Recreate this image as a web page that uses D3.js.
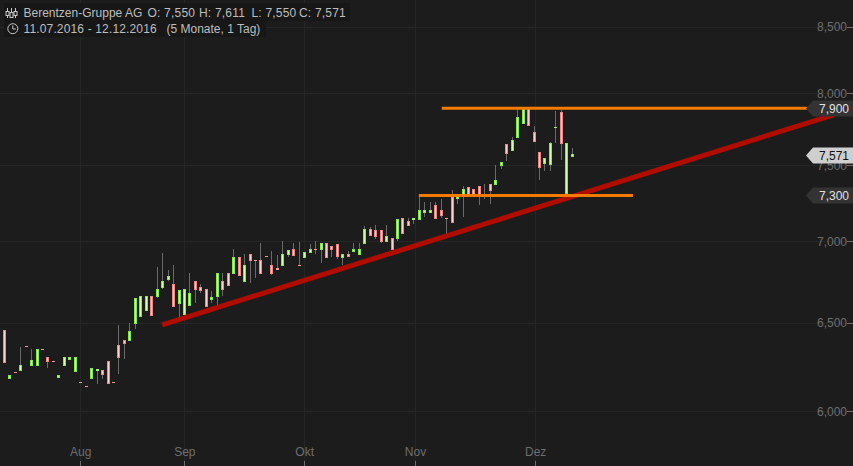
<!DOCTYPE html>
<html><head><meta charset="utf-8">
<script src="https://cdn.jsdelivr.net/npm/d3@7/dist/d3.min.js"></script>
<style>
html,body{margin:0;padding:0;background:#1c1c1c;overflow:hidden}
svg{display:block}
text{font-family:"Liberation Sans",Arial,sans-serif}
</style></head><body>
<svg id="c" width="853" height="466"></svg>
<script>
const opens=[6439,6456,6173,6215,6218,6361,6251,6246,6344,6300,6276,6179,6246,6285,6212,6158,6136,6173,6222,6225,6276,6158,6367,6396,6394,6493,6534,6570,6658,6654,6706,6755,6729,6612,6546,6600,6747,6710,6698,6636,6654,6747,6796,6793,6895,6745,6914,6877,6877,6902,6846,6827,6843,6912,6945,6846,6893,6924,6945,6943,6983,6964,6977,6893,6914,6930,6912,6980,7072,7066,7066,6993,7015,7012,7143,7124,7134,7134,7180,7180,7228,7195,7143,7280,7270,7288,7346,7333,7353,7295,7366,7363,7491,7637,7593,7683,7781,7893,7721,7582,7500,7498,7753,7862,7301,7550];
const closes=[6456,6268,6199,6209,6255,6355,6283,6344,6338,6273,6270,6200,6300,6300,6300,6152,6130,6237,6231,6195,6145,6152,6296,6377,6448,6644,6658,6658,6540,6698,6747,6778,6594,6692,6698,6674,6696,6690,6594,6650,6796,6696,6720,6895,6781,6846,6875,6871,6794,6896,6794,6818,6914,6939,6906,6840,6927,6945,6939,6983,6893,6943,6900,6914,6900,6945,6945,7072,7028,7025,6993,7028,6943,7137,7044,7096,7143,7195,7195,7195,7140,7160,7137,7115,7288,7333,7288,7282,7282,7289,7321,7393,7514,7573,7665,7833,7900,7767,7655,7478,7541,7644,7759,7642,7644,7571];
const highs=[6456,6456,6199,6215,6359,6361,6346,6344,6344,6300,6276,6200,6300,6300,6300,6158,6136,6237,6231,6225,6276,6158,6485,6396,6495,6644,6658,6658,6658,6833,6920,6816,6847,6692,6698,6798,6747,6731,6698,6688,6796,6798,6796,6947,6895,6916,6914,6877,6985,6902,6933,6908,6996,6939,6985,6991,6927,6979,6996,6983,6983,6964,6977,6914,6933,6985,6985,7094,7085,7100,7066,7100,7015,7137,7143,7143,7143,7295,7247,7247,7247,7267,7143,7328,7288,7355,7350,7333,7353,7366,7366,7496,7514,7637,7686,7900,7900,7893,7769,7582,7541,7653,7871,7876,7644,7611];
const lows=[6439,6268,6173,6209,6218,6355,6251,6246,6338,6240,6270,6179,6246,6285,6212,6152,6130,6173,6148,6173,6145,6152,6201,6291,6394,6464,6534,6570,6540,6648,6702,6751,6594,6529,6546,6600,6614,6678,6594,6616,6594,6660,6720,6793,6781,6745,6739,6767,6794,6896,6787,6818,6843,6899,6906,6840,6893,6924,6916,6862,6893,6897,6887,6847,6900,6930,6912,6980,7028,7012,6985,6993,6943,7000,7044,7096,7106,7134,7152,7180,7140,7147,7044,7115,7238,7150,7288,7282,7231,7269,7236,7363,7471,7525,7593,7683,7781,7767,7655,7397,7459,7459,7648,7532,7301,7550];
const yTicks=[6000,6500,7000,7500,8000,8500];
const monthLabels=["Aug","Sep","Okt","Nov","Dez"];
const monthStarts=[13.9,32.96,54.9,75.2,97.2];
const title="Berentzen-Gruppe AG";
const ohlcText=["O: 7,550","H: 7,611","L: 7,550","C: 7,571"];
const rangeText="11.07.2016 - 12.12.2016";
const spanText="(5 Monate, 1 Tag)";
const priceTags=[{v:7900,light:false},{v:7571,light:true},{v:7300,light:false}];
const hLines=[{a:80.1,b:147,v:7900},{a:75.9,b:115.1,v:7300}];
const trend={a:28.9,va:6490,b:152,vb:7852};

const svg=d3.select("#c");
const W=853,H=466;
const x=d3.scaleLinear().domain([-1,104]).range([-1.16,572.3]);
const y=d3.scaleLog().domain([6000,8500]).range([411.5,27]);
const yC=v=>Math.round(y(v)-0.7);   // candle pixel row
const fmt=d3.format(",");

svg.append("rect").attr("width",W).attr("height",H).attr("fill","#1c1c1c");

// grid
svg.append("g").selectAll("line").data(yTicks).join("line")
 .attr("x1",0).attr("x2",W-8).attr("y1",d=>Math.floor(y(d))+.5).attr("y2",d=>Math.floor(y(d))+.5)
 .attr("stroke","#262626");
svg.append("g").selectAll("line").data(monthStarts).join("line")
 .attr("x1",d=>Math.floor(x(d))+.5).attr("x2",d=>Math.floor(x(d))+.5).attr("y1",0).attr("y2",H-5)
 .attr("stroke","#262626");

// axes
const ya=d3.axisRight(y).tickValues(yTicks).tickFormat(fmt).tickSize(0).tickPadding(0);
const yg=svg.append("g").attr("transform",`translate(${W-6},0)`).call(ya);
yg.select(".domain").remove();
yg.selectAll("text").attr("x",0).attr("text-anchor","end").attr("fill","#6e6e6e").style("font-size","12px").style("font-family","'Liberation Sans'");
svg.append("g").selectAll("line").data(yTicks).join("line")
 .attr("x1",W-6).attr("x2",W).attr("y1",d=>Math.floor(y(d))+.5).attr("y2",d=>Math.floor(y(d))+.5).attr("stroke","#6e6e6e");

const xa=d3.axisBottom(x).tickValues(monthStarts).tickFormat((d,i)=>monthLabels[i]).tickSize(0);
const xg=svg.append("g").attr("transform",`translate(0,${H-19})`).call(xa);
xg.select(".domain").remove();
xg.selectAll("text").attr("y",0).attr("dy","0.71em").attr("fill","#6e6e6e").style("font-size","12px").style("font-family","'Liberation Sans'");
svg.append("g").selectAll("line").data(monthStarts).join("line")
 .attr("x1",d=>Math.floor(x(d))+.5).attr("x2",d=>Math.floor(x(d))+.5).attr("y1",H-5).attr("y2",H).attr("stroke","#6e6e6e");

// candles
const idx=d3.range(opens.length);
const gc=svg.append("g");
const cx=i=>Math.floor(x(i-1))+.5;
const up=i=>closes[i]>=opens[i];
const topRow=i=>yC(Math.max(opens[i],closes[i]));
const botRow=i=>yC(Math.min(opens[i],closes[i]));
const isDash=i=>botRow(i)-topRow(i)<=2;
gc.append("g").selectAll("line").data(idx).join("line")
 .attr("x1",i=>cx(i)).attr("x2",i=>cx(i))
 .attr("y1",i=>yC(highs[i])).attr("y2",i=>yC(lows[i]))
 .attr("stroke","#6a6a6a");
gc.append("g").selectAll("rect").data(idx).join("rect")
 .attr("x",i=>isDash(i)?cx(i)-1.5:cx(i)-1).attr("width",i=>isDash(i)?3:2)
 .attr("y",i=>isDash(i)?topRow(i):topRow(i)+.5)
 .attr("height",i=>isDash(i)?Math.max(1,botRow(i)-topRow(i)):botRow(i)-topRow(i)-1)
 .attr("fill",i=>isDash(i)?(up(i)?"#a6f07a":"#f59a9a"):(up(i)?"#d2fbae":"#ffcfcf"))
 .attr("stroke",i=>isDash(i)?"none":(up(i)?"#88e848":"#f08888"))
 .attr("stroke-width",1);

// trend + level lines
svg.append("line").attr("x1",x(trend.a)).attr("y1",y(trend.va)).attr("x2",x(trend.b)).attr("y2",y(trend.vb))
 .attr("stroke","#b00c00").attr("stroke-width",5);
svg.append("g").selectAll("line").data(hLines).join("line")
 .attr("x1",d=>x(d.a)).attr("x2",d=>x(d.b))
 .attr("y1",d=>y(d.v)+.5).attr("y2",d=>y(d.v)+.5).attr("stroke","#f57a00").attr("stroke-width",3);

// price tags
const tg=svg.append("g").selectAll("g").data(priceTags).join("g")
 .attr("transform",d=>`translate(0,${Math.round(y(d.v))+.5})`);
tg.append("path").attr("d","M806,0L813,-8H853V8H813Z").attr("fill",d=>d.light?"#cfcfcf":"#333333");
tg.append("text").attr("x",849).attr("y",0).attr("dy","0.36em").attr("text-anchor","end")
 .style("font-size","12px").attr("fill",d=>d.light?"#111":"#e0e0e0").text(d=>fmt(d.v));

// header
svg.append("rect").attr("x",4).attr("y",3).attr("width",346).attr("height",18).attr("fill","#171717");
svg.append("rect").attr("x",4).attr("y",21).attr("width",262).attr("height",16).attr("fill","#171717");
const ig=svg.append("g").attr("stroke","#c8c8c8").attr("fill","none");
[[7.5,11,15],[11.5,12,17],[15.5,11,15]].forEach(a=>{
  ig.append("line").attr("x1",a[0]).attr("x2",a[0]).attr("y1",8).attr("y2",18);
  ig.append("rect").attr("x",a[0]-1.5).attr("y",a[1]+.5).attr("width",3).attr("height",a[2]-a[1]).attr("fill","#1c1c1c");
});
ig.append("circle").attr("cx",12.8).attr("cy",28.7).attr("r",5);
ig.append("path").attr("d","M12.8,25.5V29H15.8");
const hdr=(t,xp,yp,ls)=>svg.append("text").attr("x",xp).attr("y",yp).attr("fill","#bdbdbd").style("font-size","12px").style("letter-spacing",ls+"px").text(t);
hdr(title,23.5,17,0);
[147.5,199,251.5,299].forEach((xp,i)=>hdr(ohlcText[i],xp,17,0.2));
hdr(rangeText,23.5,33,0.15);
hdr(spanText,166.5,33,0);
</script></body></html>
